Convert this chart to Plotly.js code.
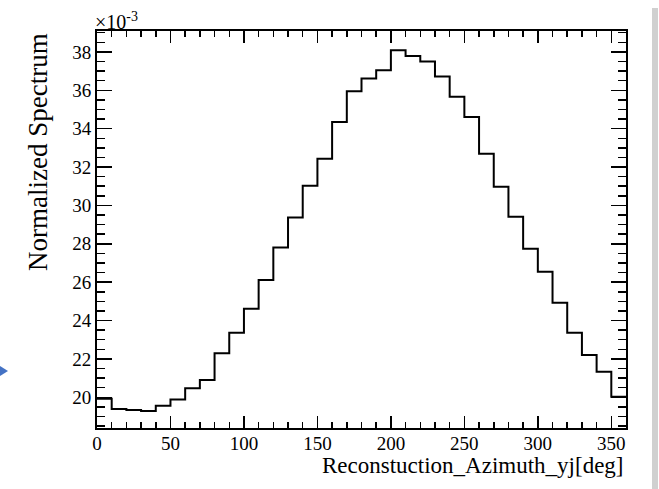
<!DOCTYPE html>
<html>
<head>
<meta charset="utf-8">
<script src="https://cdn.plot.ly/plotly-3.0.1.min.js"></script>
<style>html,body{margin:0;padding:0;background:#fff;}#chart{width:659px;height:489px;}</style>
</head>
<body>
<div id="chart"></div>
<script>
// Bin lower edges [deg]
var binStart = [0,10,20,30,40,50,60,70,80,90,100,110,120,130,140,150,160,170,
                180,190,200,210,220,230,240,250,260,270,280,290,300,310,320,330,340,350];
var binWidth = 10;
// Normalized spectrum, in units of 1e-3
var valuesE3 = [19.93,19.39,19.34,19.29,19.56,19.88,20.47,20.90,22.29,23.37,24.62,26.11,
                27.81,29.37,31.02,32.43,34.35,35.95,36.61,37.05,38.09,37.79,37.50,36.72,
                35.66,34.61,32.69,30.97,29.41,27.74,26.54,24.93,23.37,22.20,21.33,20.03];
var xTickVals = [0,50,100,150,200,250,300,350];
var yTickVals = [20,22,24,26,28,30,32,34,36,38];
var xTitle = "Reconstuction_Azimuth_yj[deg]";
var yTitle = "Normalized Spectrum";
var scaleLabel = "\u00d710<sup>-3</sup>";

var last = binStart.length - 1;
var xs = binStart.concat([binStart[last] + binWidth]);
var ys = valuesE3.concat([valuesE3[last]]);

var font = "Liberation Serif";

var trace = {
  x: xs, y: ys, type: "scatter", mode: "lines",
  line: {shape: "hv", color: "#000", width: 2},
  hoverinfo: "skip", showlegend: false
};

var layout = {
  width: 659, height: 489,
  margin: {l: 97, r: 33, t: 31, b: 61, pad: 0},
  paper_bgcolor: "#fff", plot_bgcolor: "#fff",
  font: {family: font, color: "#000", size: 18},
  xaxis: {
    range: [0, 360], showgrid: false, zeroline: false,
    showline: true, linecolor: "#000", linewidth: 2, mirror: "allticks",
    ticks: "inside", ticklen: 12, tickwidth: 1.5, tickcolor: "#000",
    tickvals: xTickVals, ticktext: xTickVals.map(String),
    tickfont: {family: font, size: 19, color: "#000"},
    ticklabelstandoff: -3,
    minor: {dtick: 10, tick0: 0, ticks: "inside", ticklen: 6, tickwidth: 1.5, tickcolor: "#000", showgrid: false}
  },
  yaxis: {
    range: [18.40, 39.09], showgrid: false, zeroline: false,
    showline: true, linecolor: "#000", linewidth: 2, mirror: "allticks",
    ticks: "inside", ticklen: 15, tickwidth: 1.5, tickcolor: "#000",
    tickvals: yTickVals, ticktext: yTickVals.map(String),
    tickfont: {family: font, size: 19, color: "#000"},
    minor: {dtick: 0.5, tick0: 0, ticks: "inside", ticklen: 8, tickwidth: 1.5, tickcolor: "#000", showgrid: false}
  },
  annotations: [
    {text: xTitle, xref: "paper", yref: "paper", x: 1, y: (428 - 466) / 397,
     xanchor: "right", yanchor: "middle", showarrow: false,
     font: {family: font, size: 23, color: "#000"}},
    {text: yTitle, xref: "paper", yref: "paper", x: (38 - 97) / 529, y: 1,
     xanchor: "center", yanchor: "top", textangle: -90, showarrow: false,
     font: {family: font, size: 27, color: "#000"}},
    {text: scaleLabel, xref: "paper", yref: "paper", x: -0.008, y: 0.99,
     xanchor: "left", yanchor: "bottom", showarrow: false,
     font: {family: font, size: 20, color: "#000"}}
  ],
  shapes: [
    {type: "rect", xref: "paper", yref: "paper",
     x0: (652 - 97) / 529, x1: (658 - 97) / 529, y0: (428 - 489) / 397, y1: (428 - 8) / 397,
     fillcolor: "#d0d0d0", line: {width: 0}, layer: "below"},
    {type: "path", xref: "paper", yref: "paper",
     path: "M " + (-97 / 529) + " " + ((428 - 366) / 397) +
           " L " + (-89 / 529) + " " + ((428 - 371) / 397) +
           " L " + (-97 / 529) + " " + ((428 - 376) / 397) + " Z",
     fillcolor: "#4472c4", line: {width: 0}}
  ]
};

Plotly.newPlot("chart", [trace], layout, {staticPlot: true, displayModeBar: false});
</script>
</body>
</html>
